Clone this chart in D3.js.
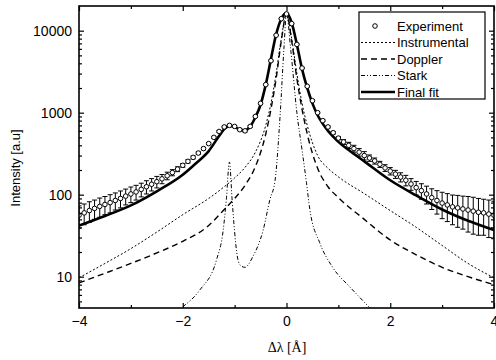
<!DOCTYPE html>
<html>
<head>
<meta charset="utf-8">
<script src="https://cdn.jsdelivr.net/npm/d3@7"></script>
<style>
  body { margin: 0; background: #fff; }
  svg { display: block; }
  .tick text { font-family: "Liberation Sans", Arial, sans-serif; font-size: 14px; fill: #000; }
</style>
</head>
<body>
<div id="chart"></div>
<script>
// Experiment: sampled every 0.1 A from -4 to 4
const expStart = -4, expStep = 0.1;
const expY = [56, 60, 64, 68, 72, 76, 80, 85, 90, 96,
              102, 108, 116, 125, 134, 144, 156, 170, 186, 205,
              228, 255, 285, 322, 365, 420, 500, 590, 670, 700,
              680, 620, 600, 680, 900, 1300, 2200, 4300, 8800, 14000,
              16000,
              12200, 6800, 3500, 2100, 1400, 1000, 800, 670, 570, 490,
              440, 400, 365, 330, 300, 280, 258, 235, 212, 194,
              178, 164, 150, 135, 122, 112, 102, 92, 85, 79,
              75, 71, 69, 67, 65, 63, 61, 60, 58, 56];
const expErr = [17, 17, 18, 18, 19, 19, 20, 20, 21, 21, 22, 22, 22, 23, 23, 23,
                20, 18, 16, 14, 12, 12, 12, 12, 12, 12,
                14, 16, 18, 18, 18, 18, 18, 18, 20, 25,
                30, 50, 80, 100, 100, 100, 80, 50, 30,
                25, 20, 18, 18, 20, 22, 30, 35, 35, 35, 35, 25, 22, 20, 20,
                20, 20, 21, 22, 22, 23, 24, 25, 26, 27, 28, 28, 28, 29, 29, 30, 30, 29, 28, 28, 27];

// Final fit
const fitX = [-4, -3.5, -3, -2.5, -2, -1.75, -1.5, -1.3, -1.2, -1.1, -1.0, -0.9, -0.8, -0.7, -0.6, -0.5, -0.4, -0.3, -0.2, -0.1,
              0, 0.1, 0.2, 0.3, 0.4, 0.5, 0.6, 0.7, 0.8, 0.9, 1.0, 1.2, 1.5, 2, 2.5, 3, 3.5, 4];
const fitY = [42, 55, 74, 110, 175, 240, 340, 520, 630, 690, 670, 620, 610, 680, 880, 1250, 2200, 4500, 9000, 14000,
              16500, 12500, 6800, 3400, 2000, 1300, 930, 730, 600, 510, 440, 350, 255, 150, 98, 66, 48, 37];

// Instrumental and Doppler profiles
const modelX = [-4, -3.5, -3, -2.5, -2, -1.5, -1.2, -1, -0.8, -0.6, -0.4, -0.3, -0.2, -0.1,
                0, 0.1, 0.2, 0.3, 0.4, 0.6, 0.8, 1, 1.5, 2, 2.5, 3, 3.5, 4];
const instrY = [9.7, 14.5, 22, 35, 57, 90, 125, 160, 215, 330, 700, 1300, 3000, 8000,
                16000, 8000, 3000, 1300, 700, 300, 210, 165, 103, 64, 40, 24, 14.5, 9.7];
const dopplerY = [8.4, 11, 14.5, 19.5, 27, 42, 66, 90, 130, 220, 550, 1100, 2600, 7500,
                  16000, 7500, 2600, 1100, 550, 210, 125, 92, 50, 28, 18.5, 13, 10, 8];

// Stark profile
const starkX = [-2, -1.67, -1.35, -1.22, -1.16, -1.1, -1.05, -1.0, -0.95, -0.9, -0.8, -0.65, -0.45, -0.32, -0.22, -0.12, -0.05,
                0, 0.08, 0.2, 0.3, 0.385, 0.45, 0.64, 0.89, 1.22, 1.41, 1.6];
const starkY = [4.3, 6.9, 16, 37, 87, 250, 90, 35, 18, 14, 13, 17.5, 37, 87, 150, 1000, 6000,
                16000, 6000, 1000, 350, 140, 66, 26, 13, 7.5, 5.6, 4.2];

const xTicks = [-4, -2, 0, 2, 4];
const xMinor = [-3, -1, 1, 3];
const yTicks = [10, 100, 1000, 10000];

const legendItems = [
  {label: "Experiment", kind: "circle"},
  {label: "Instrumental", kind: "line", dash: "2,2", width: 1},
  {label: "Doppler", kind: "line", dash: "6,4", width: 1.4},
  {label: "Stark", kind: "line", dash: "4,2,1,2,1,2", width: 1},
  {label: "Final fit", kind: "line", dash: null, width: 2.6}
];

const width = 496, height = 360;
const mLeft = 79, mRight = 494, mTop = 6, mBottom = 308;

const svg = d3.select("#chart").append("svg")
  .attr("width", width).attr("height", height);

const x = d3.scaleLinear().domain([-4, 4]).range([mLeft, mRight]);
const y = d3.scaleLog().domain([4.15, 20000]).range([mBottom, mTop]);

svg.append("clipPath").attr("id", "plot")
  .append("rect").attr("x", mLeft).attr("y", mTop)
  .attr("width", mRight - mLeft).attr("height", mBottom - mTop);

const plot = svg.append("g").attr("clip-path", "url(#plot)");

const line = d3.line().x(d => x(d[0])).y(d => y(d[1])).curve(d3.curveMonotoneX);

function drawCurve(xs, ys, dash, w) {
  plot.append("path")
    .datum(xs.map((v, i) => [v, ys[i]]))
    .attr("d", line)
    .attr("fill", "none")
    .attr("stroke", "#000")
    .attr("stroke-width", w)
    .attr("stroke-dasharray", dash);
}

drawCurve(modelX, instrY, "2,2", 1);
drawCurve(modelX, dopplerY, "6,4", 1.4);
drawCurve(starkX, starkY, "4,2,1,2,1,2", 1);

// experiment with error bars
const expData = expY.map((v, i) => ({x: expStart + i * expStep, y: v, e: expErr[i]}));

const bars = plot.append("g").attr("stroke", "#000").attr("stroke-width", 1);
expData.forEach(d => {
  const lo = Math.max(d.y - d.e, 1);
  const hi = d.y + d.e;
  bars.append("line").attr("x1", x(d.x)).attr("x2", x(d.x)).attr("y1", y(lo)).attr("y2", y(hi));
  bars.append("line").attr("x1", x(d.x) - 2.5).attr("x2", x(d.x) + 2.5).attr("y1", y(lo)).attr("y2", y(lo));
  bars.append("line").attr("x1", x(d.x) - 2.5).attr("x2", x(d.x) + 2.5).attr("y1", y(hi)).attr("y2", y(hi));
});

drawCurve(fitX, fitY, null, 2.6);

plot.selectAll(".pt")
  .data(expData)
  .enter().append("circle")
  .attr("class", "pt")
  .attr("cx", d => x(d.x))
  .attr("cy", d => y(d.y))
  .attr("r", 2.3)
  .attr("fill", "#fff")
  .attr("stroke", "#000")
  .attr("stroke-width", 1);

// axes, ticks pointing inward
const yMinor = [];
[1, 10, 100, 1000, 10000].forEach(dec => {
  for (let k = 2; k <= 9; k++) {
    const v = dec * k;
    if (v > 4.15 && v < 20000) yMinor.push(v);
  }
});

function styleAxis(g) {
  g.select(".domain").remove();
  g.selectAll(".tick line").attr("stroke", "#000").attr("stroke-width", 1.2);
}

svg.append("g").attr("transform", `translate(0,${mBottom})`)
  .call(d3.axisBottom(x).tickValues(xTicks).tickFormat(d3.format("d")).tickSize(-5).tickPadding(8))
  .call(styleAxis);
svg.append("g").attr("transform", `translate(0,${mBottom})`)
  .call(d3.axisBottom(x).tickValues(xMinor).tickFormat("").tickSize(-3))
  .call(styleAxis);
svg.append("g").attr("transform", `translate(0,${mTop})`)
  .call(d3.axisTop(x).tickValues(xTicks).tickFormat("").tickSize(-5))
  .call(styleAxis);
svg.append("g").attr("transform", `translate(0,${mTop})`)
  .call(d3.axisTop(x).tickValues(xMinor).tickFormat("").tickSize(-3))
  .call(styleAxis);

svg.append("g").attr("transform", `translate(${mLeft},0)`)
  .call(d3.axisLeft(y).tickValues(yTicks).tickFormat(d3.format("d")).tickSize(-5).tickPadding(7))
  .call(styleAxis);
svg.append("g").attr("transform", `translate(${mLeft},0)`)
  .call(d3.axisLeft(y).tickValues(yMinor).tickFormat("").tickSize(-3))
  .call(styleAxis);
svg.append("g").attr("transform", `translate(${mRight},0)`)
  .call(d3.axisRight(y).tickValues(yTicks).tickFormat("").tickSize(-5))
  .call(styleAxis);
svg.append("g").attr("transform", `translate(${mRight},0)`)
  .call(d3.axisRight(y).tickValues(yMinor).tickFormat("").tickSize(-3))
  .call(styleAxis);

// frame
svg.append("rect")
  .attr("x", mLeft).attr("y", mTop)
  .attr("width", mRight - mLeft).attr("height", mBottom - mTop)
  .attr("fill", "none").attr("stroke", "#000").attr("stroke-width", 1.6);

// axis titles
svg.append("text")
  .attr("transform", "translate(20,168) rotate(-90)")
  .attr("text-anchor", "middle")
  .style("font-family", "'Liberation Sans', Arial, sans-serif")
  .style("font-size", "13px")
  .text("Intensity [a.u]");

svg.append("text")
  .attr("x", 287).attr("y", 352)
  .attr("text-anchor", "middle")
  .style("font-family", "'Liberation Serif', 'Times New Roman', serif")
  .style("font-size", "14px")
  .text("Δλ [Å]");

// legend
const lg = svg.append("g");
lg.append("rect")
  .attr("x", 359).attr("y", 12).attr("width", 126).attr("height", 87)
  .attr("fill", "#fff").attr("stroke", "#000").attr("stroke-width", 1.2);

legendItems.forEach((item, i) => {
  const cy = 26 + i * 16.5;
  if (item.kind === "circle") {
    lg.append("circle").attr("cx", 375).attr("cy", cy).attr("r", 2.3)
      .attr("fill", "#fff").attr("stroke", "#000").attr("stroke-width", 1);
  } else {
    lg.append("line").attr("x1", 361).attr("x2", 395).attr("y1", cy).attr("y2", cy)
      .attr("stroke", "#000").attr("stroke-width", item.width)
      .attr("stroke-dasharray", item.dash);
  }
  lg.append("text")
    .attr("x", 397).attr("y", cy + 4.5)
    .style("font-family", "'Liberation Sans', Arial, sans-serif")
    .style("font-size", "13px")
    .text(item.label);
});
</script>
</body>
</html>
